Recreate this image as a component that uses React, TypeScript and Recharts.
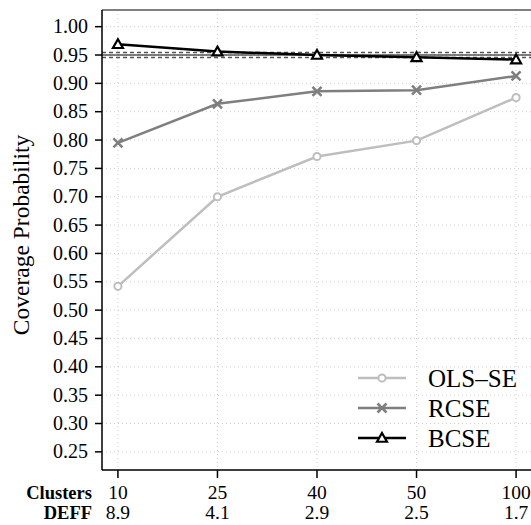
import React from 'react'
import {
  LineChart,
  Line,
  XAxis,
  YAxis,
  CartesianGrid,
  ReferenceLine,
  Label
} from 'recharts'

const clusters = ['10', '25', '40', '50', '100']
const deff = ['8.9', '4.1', '2.9', '2.5', '1.7']
const olsSe = [0.542, 0.7, 0.771, 0.799, 0.875]
const rcse = [0.795, 0.864, 0.886, 0.888, 0.913]
const bcse = [0.969, 0.956, 0.95, 0.946, 0.942]
const yTicks = [0.25, 0.3, 0.35, 0.4, 0.45, 0.5, 0.55, 0.6, 0.65, 0.7, 0.75, 0.8, 0.85, 0.9, 0.95, 1.0]

const data = clusters.map((c, i) => ({
  i,
  clusters: c,
  deff: deff[i],
  ols: olsSe[i],
  rcse: rcse[i],
  bcse: bcse[i]
}))

const Y_MIN = 0.218
const Y_MAX = 1.0294
const FONT = '"Liberation Serif", "Times New Roman", serif'
const OLS_COLOR = '#bebebe'
const RCSE_COLOR = '#7f7f7f'
const BCSE_COLOR = '#000000'

const CircleDot = (props: any) => {
  const { cx, cy, index } = props
  return <circle key={'o' + index} cx={cx} cy={cy} r={3.6} fill="#fff" stroke={OLS_COLOR} strokeWidth={2} />
}

const CrossDot = (props: any) => {
  const { cx, cy, index } = props
  const s = 4.5
  return (
    <path
      key={'x' + index}
      d={`M${cx - s},${cy - s}L${cx + s},${cy + s}M${cx - s},${cy + s}L${cx + s},${cy - s}`}
      stroke={RCSE_COLOR}
      strokeWidth={2.5}
    />
  )
}

const TriDot = (props: any) => {
  const { cx, cy, index } = props
  const s = 5
  return (
    <path
      key={'t' + index}
      d={`M${cx},${cy - s}L${cx + s},${cy + s * 0.75}L${cx - s},${cy + s * 0.75}Z`}
      fill="#fff"
      stroke={BCSE_COLOR}
      strokeWidth={2.2}
    />
  )
}

// two rows under each x tick: cluster count, then design effect
const XTick = (props: any) => {
  const { x, payload } = props
  const i = payload.value as number
  return (
    <g style={{ fontFamily: FONT }} fontSize={19.5} fill="#000">
      <text x={x} y={498.5} textAnchor="middle">{clusters[i]}</text>
      <text x={x} y={519} textAnchor="middle">{deff[i]}</text>
      {i === 0 && (
        <g fontWeight="bold" fontSize={18.5}>
          <text x={92} y={498.5} textAnchor="end">Clusters</text>
          <text x={92} y={519} textAnchor="end">DEFF</text>
        </g>
      )}
    </g>
  )
}

const YTick = (props: any) => {
  const { y, payload } = props
  return (
    <text x={88} y={y + 6.5} textAnchor="end" style={{ fontFamily: FONT }} fontSize={20} fill="#000">
      {(payload.value as number).toFixed(2)}
    </text>
  )
}

const legendItems = [
  { name: 'OLS–SE', color: OLS_COLOR, Dot: CircleDot },
  { name: 'RCSE', color: RCSE_COLOR, Dot: CrossDot },
  { name: 'BCSE', color: BCSE_COLOR, Dot: TriDot }
]

const LegendBox = () => (
  <svg width={181} height={95} style={{ position: 'absolute', left: 350, top: 362 }}>
    {legendItems.map((it, k) => {
      const y = 16 + k * 30
      return (
        <g key={it.name}>
          <line x1={8} x2={56} y1={y} y2={y} stroke={it.color} strokeWidth={2.5} />
          <it.Dot cx={32} cy={y} index={k} />
          <text x={78} y={y + 8.5} style={{ fontFamily: FONT }} fontSize={25} fill="#000">
            {it.name}
          </text>
        </g>
      )
    })}
  </svg>
)

const App: React.FC = () => {
  return (
    <div style={{ position: 'fixed', left: 0, top: 0, width: 531, height: 525, background: '#fff', overflow: 'hidden' }}>
      <LineChart width={532} height={525} data={data} margin={{ top: 10, right: 0, bottom: 0, left: 0 }}>
        <CartesianGrid stroke="#cfcfcf" strokeDasharray="1 3" />
        <XAxis
          type="number"
          dataKey="i"
          domain={[-0.16, 4.16]}
          ticks={[0, 1, 2, 3, 4]}
          height={55}
          axisLine={{ stroke: '#000', strokeWidth: 1.5 }}
          tickLine={{ stroke: '#000', strokeWidth: 1.5 }}
          tickSize={8}
          tick={<XTick />}
          interval={0}
        />
        <YAxis
          type="number"
          domain={[Y_MIN, Y_MAX]}
          ticks={yTicks}
          width={102}
          axisLine={{ stroke: '#000', strokeWidth: 1.5 }}
          tickLine={{ stroke: '#000', strokeWidth: 1.5 }}
          tickSize={7}
          tick={<YTick />}
          interval={0}
        >
          <Label
            content={() => (
              <text
                x={29}
                y={235}
                transform="rotate(-90 29 235)"
                textAnchor="middle"
                style={{ fontFamily: FONT }}
                fontSize={23.5}
                fill="#000"
              >
                Coverage Probability
              </text>
            )}
          />
        </YAxis>
        <ReferenceLine y={Y_MAX} stroke="#808080" strokeWidth={2} />
        <ReferenceLine y={0.95} stroke="#000" strokeWidth={1} />
        <ReferenceLine y={0.9545} stroke="#555" strokeWidth={1.5} strokeDasharray="4 3" />
        <ReferenceLine y={0.9455} stroke="#555" strokeWidth={1.5} strokeDasharray="4 3" />
        <Line dataKey="ols" stroke={OLS_COLOR} strokeWidth={2.5} dot={<CircleDot />} isAnimationActive={false} />
        <Line dataKey="rcse" stroke={RCSE_COLOR} strokeWidth={2.5} dot={<CrossDot />} isAnimationActive={false} />
        <Line dataKey="bcse" stroke={BCSE_COLOR} strokeWidth={2.5} dot={<TriDot />} isAnimationActive={false} />
      </LineChart>
      <LegendBox />
    </div>
  )
}

export default App
